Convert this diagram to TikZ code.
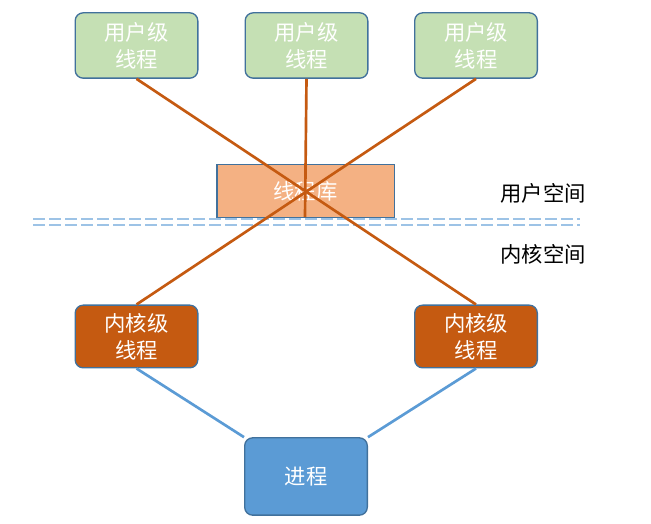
\documentclass[tikz,border=0pt]{standalone}
\usepackage{fontspec}
\setmainfont{Noto Sans CJK SC}
\usetikzlibrary{positioning}
\definecolor{ulgreen}{HTML}{C5E0B4}
\definecolor{libpeach}{HTML}{F4B183}
\definecolor{korange}{HTML}{C55A11}
\definecolor{pblue}{HTML}{5B9BD5}
\definecolor{edgeblue}{HTML}{41719C}
\definecolor{dashblue}{HTML}{9DC3E6}
\tikzset{
  box/.style = {draw = edgeblue, line width = 1pt, rounded corners = 6pt, text = white, align = center, font = \fontsize{16}{20}\selectfont, inner sep = 0pt},
  uthread/.style = {box, fill = ulgreen, minimum width = 92pt, minimum height = 49pt},
  kthread/.style = {box, fill = korange, minimum width = 92pt, minimum height = 47pt},
  oline/.style = {draw = korange, line width = 2pt},
  bline/.style = {draw = pblue, line width = 2pt}
}
\begin{document}
\begin{tikzpicture}[x = 0.75pt, y = -0.75pt]
\useasboundingbox (0,0) rectangle (651,524);
\node[uthread] (u1) at (136.5,45.5) {用户级\\线程};
\node[uthread] (u2) at (306.5,45.5) {用户级\\线程};
\node[uthread] (u3) at (476,45.5) {用户级\\线程};
\node[box, fill = libpeach, rounded corners = 0pt, minimum width = 133pt, minimum height = 40pt] (lib) at (305.5,191) {线程库};
\foreach \yy in {219,225} \draw[dashblue, line width = 1.5pt, dash pattern = on 9pt off 3pt] (33,\yy) -- (580,\yy);
\node[font = \fontsize{16}{20}\selectfont] (us) at (543,193) {用户空间};
\node[font = \fontsize{16}{20}\selectfont] (ks) at (543,254) {内核空间};
\node[kthread] (k1) at (136.5,336.5) {内核级\\线程};
\node[kthread] (k2) at (476,336.5) {内核级\\线程};
\node[box, fill = pblue, minimum width = 92pt, minimum height = 58pt] (proc) at (306,476.5) {进程};
\coordinate (x) at (305,217);
\draw[oline] (u1.south) -- (k2.north);
\draw[oline] (u3.south) -- (k1.north);
\draw[oline] (u2.south) -- (x);
\draw[bline] (k1.south) -- (proc.north west);
\draw[bline] (k2.south) -- (proc.north east);
\end{tikzpicture}
\end{document}
